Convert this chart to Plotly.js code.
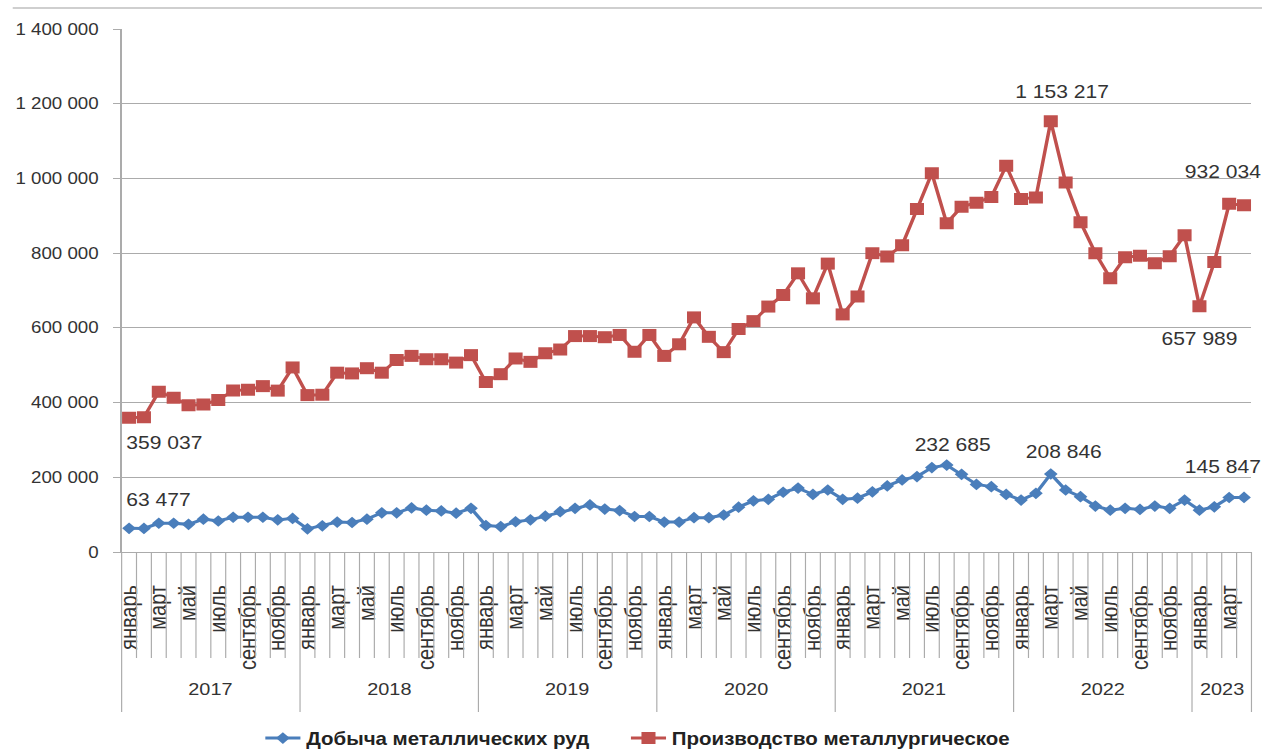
<!DOCTYPE html>
<html><head><meta charset="utf-8">
<script src="https://cdn.plot.ly/plotly-3.0.1.min.js"></script>
<style>
html,body{margin:0;padding:0;background:#fff;overflow:hidden;}
#wrap{width:1262px;height:749px;overflow:hidden;position:relative;}
#chart{width:1079px;height:749px;transform:scaleX(1.16960);transform-origin:0 0;}
</style></head><body><div id="wrap"><div id="chart"></div></div>
<script>
// ---- data ----
const years = ['2017','2018','2019','2020','2021','2022','2023'];
const monthsPerYear = [12,12,12,12,12,12,4];
const months = ['январь','февраль','март','апрель','май','июнь','июль','август','сентябрь','октябрь','ноябрь','декабрь'];
const seriesNames = ['Добыча металлических руд','Производство металлургическое'];
const oreMining = [
  63477,63000,77000,77000,74000,88000,83000,93000,93000,93000,86000,90000,
  62000,70000,80000,79000,88000,105000,105000,118000,112000,110000,104000,117000,
  71000,68000,81000,86000,96000,108000,117000,126000,115000,111000,95000,95000,
  80000,80000,92000,92000,99000,120000,137000,141000,160000,171000,154000,166000,
  141000,144000,161000,177000,193000,202000,226000,232685,208000,181000,175000,154000,
  139000,157000,208846,166000,148000,123000,112000,117000,114000,123000,117000,139000,
  112000,121000,145847,146000
];
const metallurgy = [
  359037,361000,429000,413000,393000,395000,407000,432000,434000,444000,432000,494000,
  420000,421000,480000,478000,492000,480000,514000,525000,516000,516000,507000,527000,
  455000,476000,518000,509000,532000,542000,578000,578000,575000,581000,536000,581000,
  525000,556000,628000,576000,535000,597000,618000,657000,688000,746000,679000,772000,
  636000,684000,800000,791000,821000,918000,1014000,880000,924000,935000,950000,1034000,
  945000,949000,1153217,989000,883000,800000,733000,789000,793000,773000,792000,848000,
  657989,776000,932034,928000
];
const yTicks = [0,200000,400000,600000,800000,1000000,1200000,1400000];
const labeledOre = [0,55,62,74];
const labeledMet = [0,62,72,74];

// ---- build categories ----
const cats = [], tickText = [];
years.forEach((y, yi) => {
  for (let m = 0; m < monthsPerYear[yi]; m++) {
    cats.push(months[m] + ' ' + y);
    tickText.push(m % 2 === 0 ? months[m] : '');
  }
});
const N = cats.length;
const fmt = v => String(v).replace(/\B(?=(\d{3})+(?!\d))/g, ' ');

// ---- styles ----
const FONT = 'Arial, "Liberation Sans", sans-serif';
const BLUE = '#4A7EBB', RED = '#C0504D', GRID = '#ababab', TXT = '#333333';
const PLOT_H = 523;
const monthTickBottom = -106 / PLOT_H, yearLineBottom = -160 / PLOT_H, yearLabelY = -138 / PLOT_H;

const traces = [
  {x: cats, y: oreMining, name: seriesNames[0], type: 'scatter', mode: 'lines+markers', legend: 'legend',
   line: {color: BLUE, width: 3}, marker: {symbol: 'diamond', size: 9, color: BLUE}},
  {x: cats, y: metallurgy, name: seriesNames[1], type: 'scatter', mode: 'lines+markers', legend: 'legend2',
   line: {color: RED, width: 3}, marker: {symbol: 'square', size: 12, color: RED}}
];

// shapes: month ticks & year separators
const shapes = [];
const yearStarts = [];
let acc = 0;
monthsPerYear.forEach(c => { yearStarts.push(acc); acc += c; });
for (let k = 0; k <= N; k++) {
  const isYear = yearStarts.includes(k) || k === N;
  const edge = k === 0 || k === N;
  shapes.push({type: 'line', xref: edge ? 'paper' : 'x', yref: 'paper',
    x0: edge ? (k === 0 ? 0 : 1) : k - 0.5, x1: edge ? (k === 0 ? 0 : 1) : k - 0.5,
    y0: 0, y1: isYear ? yearLineBottom : monthTickBottom,
    line: {color: GRID, width: 1}});
}
// top frame line
shapes.push({type: 'line', xref: 'paper', yref: 'paper', x0: -0.0964, x1: 1.02, y0: 1.0402, y1: 1.0402,
  line: {color: '#a0a0a0', width: 1}});

// annotations
const annotations = [];
years.forEach((y, yi) => {
  annotations.push({x: yearStarts[yi] + (monthsPerYear[yi] - 1) / 2, y: yearLabelY, xref: 'x', yref: 'paper',
    text: y, showarrow: false, xanchor: 'center', yanchor: 'middle',
    font: {family: FONT, size: 17, color: TXT}});
});
const oreOffsets = {0: [25, 28], 55: [5, 20], 62: [11, 22], 74: [-5, 31]};
const metOffsets = {0: [30, -25], 62: [10, 29], 72: [0, -33], 74: [-5, 32]};
labeledOre.forEach(i => annotations.push({x: cats[i], y: oreMining[i], xref: 'x', yref: 'y',
  text: fmt(oreMining[i]), showarrow: false, xshift: oreOffsets[i][0], yshift: oreOffsets[i][1],
  font: {family: FONT, size: 18, color: TXT}}));
labeledMet.forEach(i => annotations.push({x: cats[i], y: metallurgy[i], xref: 'x', yref: 'y',
  text: fmt(metallurgy[i]), showarrow: false, xshift: metOffsets[i][0], yshift: metOffsets[i][1],
  font: {family: FONT, size: 18, color: TXT}}));

const legendFont = {family: FONT, size: 17.5, color: '#222', weight: 'bold'};
const layout = {
  width: 1079, height: 749,
  margin: {l: 103.5, r: 8.5, t: 29, b: 197, pad: 0, autoexpand: false},
  paper_bgcolor: '#ffffff', plot_bgcolor: '#ffffff',
  separators: ', ',
  font: {family: FONT, color: TXT},
  showlegend: true,
  legend: {orientation: 'h', x: 0.122, xanchor: 'left', y: -0.356, yanchor: 'middle',
    font: legendFont, bgcolor: 'rgba(0,0,0,0)'},
  legend2: {orientation: 'h', x: 0.4456, xanchor: 'left', y: -0.356, yanchor: 'middle',
    font: legendFont, bgcolor: 'rgba(0,0,0,0)'},
  xaxis: {type: 'category', categoryorder: 'array', categoryarray: cats, automargin: false,
    range: [-0.5, N - 0.5], tickvals: cats, ticktext: tickText, tickangle: -90,
    ticks: '', ticklabelstandoff: 24, showgrid: false, showline: true, linecolor: GRID, linewidth: 1,
    tickfont: {family: FONT, size: 20, color: TXT}, fixedrange: true},
  yaxis: {range: [0, 1400000], tickvals: yTicks, tickformat: ',d', showgrid: true, gridcolor: GRID, gridwidth: 1,
    automargin: false, zeroline: false, showline: true, linecolor: GRID, linewidth: 1, ticks: 'outside', ticklen: 6.5,
    tickcolor: GRID, ticklabelstandoff: 9, tickfont: {family: FONT, size: 16, color: TXT}, fixedrange: true},
  shapes: shapes,
  annotations: annotations
};
Plotly.newPlot('chart', traces, layout, {displayModeBar: false, staticPlot: true, responsive: false});
</script></body></html>
